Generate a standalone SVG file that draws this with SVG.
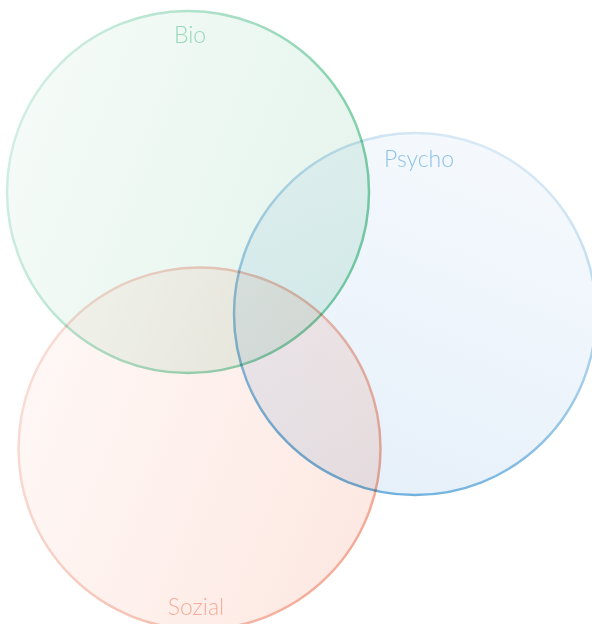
<svg xmlns="http://www.w3.org/2000/svg" width="592" height="624" viewBox="0 0 592 624">
<style>
.lbl{font-family:"Lato","Open Sans","Liberation Sans",sans-serif;font-weight:300;font-size:23px;text-anchor:middle}
circle{stroke-width:2.5}
.c{mix-blend-mode:multiply}
</style>
<defs>
<linearGradient id="fb" x1="0" y1="0.3" x2="1" y2="0.7"><stop offset="0" stop-color="#f5fbf8"/><stop offset="1" stop-color="#e4f4ec"/></linearGradient>
<linearGradient id="sb" x1="0" y1="0.3" x2="1" y2="0.6"><stop offset="0" stop-color="#d3efe5"/><stop offset="1" stop-color="#78cda2"/></linearGradient>
<linearGradient id="fp" x1="0.7" y1="0" x2="0.3" y2="1"><stop offset="0" stop-color="#f5f9fd"/><stop offset="1" stop-color="#e6f0fa"/></linearGradient>
<linearGradient id="sp" x1="0.7" y1="0" x2="0.3" y2="1"><stop offset="0" stop-color="#dcebf6"/><stop offset="1" stop-color="#6aaedc"/></linearGradient>
<linearGradient id="fs" x1="0" y1="0.3" x2="1" y2="0.7"><stop offset="0" stop-color="#fff8f6"/><stop offset="1" stop-color="#fde8e2"/></linearGradient>
<linearGradient id="ss" x1="0" y1="0.3" x2="1" y2="0.7"><stop offset="0" stop-color="#f9ddd5"/><stop offset="1" stop-color="#f3a995"/></linearGradient>
</defs>
<g id="psycho">
<circle class="c" cx="415" cy="314" r="181" fill="url(#fp)" stroke="url(#sp)"/>
<text class="lbl" x="419" y="167" fill="#8fc3e8">Psycho</text>
</g>
<g id="bio">
<circle class="c" cx="188" cy="192" r="181" fill="url(#fb)" stroke="url(#sb)"/>
<text class="lbl" x="190" y="43" fill="#98d8ba">Bio</text>
</g>
<g id="sozial">
<circle class="c" cx="199.5" cy="448.5" r="181" fill="url(#fs)" stroke="url(#ss)"/>
<text class="lbl" x="196" y="615" fill="#f5ad99">Sozial</text>
</g>
</svg>
